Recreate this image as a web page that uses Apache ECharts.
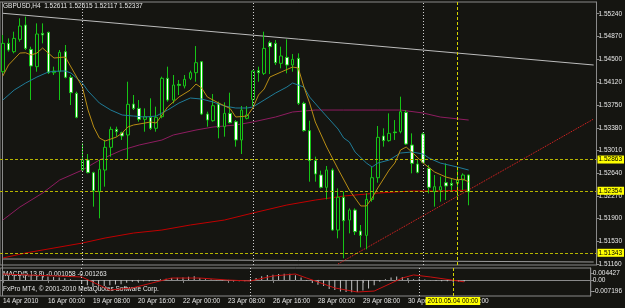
<!DOCTYPE html>
<html>
<head>
<meta charset="utf-8">
<script src="https://cdn.jsdelivr.net/npm/echarts@6/dist/echarts.min.js"></script>
<style>
html, body { margin: 0; padding: 0; background: #151511; }
#chart { width: 625px; height: 308px; }
</style>
</head>
<body>
<div id="chart"></div>
<script>
// GBPUSD H4, 14 Apr 16:00 .. 4 May 08:00 (83 bars) + empty shift area on the right
// candle = [open, close, low, high]
var candles = [
  [1.54295, 1.54757, 1.54268, 1.54893], [1.54757, 1.54648, 1.54621, 1.54838],
  [1.54621, 1.54838, 1.54594, 1.54947], [1.54822, 1.55040, 1.54784, 1.55165],
  [1.55056, 1.54675, 1.54648, 1.55192], [1.54659, 1.54388, 1.53833, 1.54703],
  [1.54377, 1.54909, 1.54295, 1.55083], [1.54920, 1.54893, 1.54757, 1.55083],
  [1.54936, 1.54279, 1.54257, 1.54947], [1.54279, 1.54306, 1.54241, 1.54377],
  [1.54295, 1.54610, 1.53833, 1.54648], [1.54621, 1.54203, 1.54187, 1.54730],
  [1.54203, 1.53953, 1.53752, 1.54241], [1.53942, 1.53551, 1.53535, 1.53969],
  [1.52692, 1.52856, 1.52665, 1.53127], [1.52856, 1.52649, 1.52638, 1.52953],
  [1.52649, 1.52355, 1.52095, 1.52665], [1.52339, 1.52703, 1.51905, 1.52856],
  [1.52692, 1.53062, 1.52421, 1.53182], [1.53062, 1.53355, 1.52910, 1.53399],
  [1.53355, 1.53317, 1.53236, 1.53399], [1.53301, 1.53247, 1.53182, 1.53317],
  [1.53263, 1.53763, 1.52856, 1.54132], [1.53768, 1.53697, 1.53670, 1.53915],
  [1.53697, 1.53518, 1.53480, 1.53833], [1.53518, 1.53562, 1.53317, 1.53697],
  [1.53551, 1.53372, 1.53344, 1.53861], [1.53372, 1.53551, 1.53317, 1.53725],
  [1.53562, 1.54187, 1.53535, 1.54214], [1.54187, 1.53833, 1.53806, 1.54377],
  [1.53833, 1.54078, 1.53779, 1.54241], [1.54089, 1.54072, 1.53915, 1.54159],
  [1.54062, 1.54170, 1.54023, 1.54241], [1.54187, 1.54279, 1.54159, 1.54312],
  [1.54279, 1.54442, 1.54132, 1.54713], [1.54458, 1.53605, 1.53589, 1.54469],
  [1.53605, 1.53507, 1.53399, 1.53643], [1.53496, 1.53741, 1.53480, 1.53931],
  [1.53768, 1.53388, 1.53209, 1.53806], [1.53399, 1.53616, 1.53236, 1.53795],
  [1.53616, 1.53464, 1.53453, 1.53953], [1.53480, 1.53182, 1.53073, 1.53507],
  [1.53182, 1.53670, 1.52953, 1.53736], [1.53535, 1.53589, 1.53518, 1.53736],
  [1.53844, 1.54306, 1.53736, 1.54322], [1.54312, 1.54279, 1.54132, 1.54377],
  [1.54268, 1.54675, 1.54241, 1.54947], [1.54768, 1.54703, 1.54257, 1.54800],
  [1.54757, 1.54442, 1.54404, 1.54811], [1.54431, 1.54551, 1.54350, 1.54703],
  [1.54529, 1.54404, 1.54268, 1.54822], [1.54404, 1.54496, 1.54295, 1.54583],
  [1.54513, 1.53779, 1.53752, 1.54594], [1.53779, 1.53334, 1.53317, 1.53806],
  [1.53334, 1.52845, 1.52502, 1.53496], [1.52845, 1.52627, 1.52502, 1.52910],
  [1.52611, 1.52410, 1.52393, 1.52682], [1.52410, 1.52692, 1.52214, 1.52758],
  [1.52692, 1.51714, 1.51703, 1.52720], [1.51714, 1.52247, 1.51579, 1.52393],
  [1.52247, 1.51866, 1.51253, 1.52339], [1.51877, 1.52040, 1.51660, 1.52067],
  [1.52040, 1.51687, 1.51633, 1.52067], [1.51698, 1.51627, 1.51432, 1.51796],
  [1.51627, 1.52214, 1.51399, 1.52312], [1.52214, 1.52567, 1.52176, 1.52747],
  [1.52567, 1.53225, 1.52486, 1.53410], [1.53247, 1.53171, 1.53073, 1.53372],
  [1.53171, 1.53290, 1.53154, 1.53616], [1.53312, 1.53301, 1.53182, 1.53507],
  [1.53317, 1.53643, 1.53290, 1.53888], [1.53632, 1.53116, 1.53100, 1.53670],
  [1.53100, 1.52801, 1.52638, 1.53290], [1.52790, 1.52654, 1.52638, 1.52856],
  [1.53279, 1.52817, 1.52801, 1.53301], [1.52720, 1.52410, 1.52312, 1.52774],
  [1.52339, 1.52421, 1.52095, 1.52611], [1.52366, 1.52421, 1.52176, 1.52584],
  [1.52486, 1.52432, 1.52203, 1.52801], [1.52475, 1.52443, 1.52355, 1.52556],
  [1.52475, 1.52530, 1.52258, 1.52692], [1.52530, 1.52611, 1.52366, 1.52638],
  [1.52611, 1.52337, 1.52117, 1.52615]
];

// moving averages read at [bar, price]
var maFast = [
  [0, 1.54225], [1, 1.54404], [3, 1.54599], [4, 1.54604], [5, 1.54567], [6, 1.54599],
  [7, 1.54681], [8, 1.54599], [9, 1.54518], [11, 1.54534], [12, 1.54371], [13, 1.54208],
  [14, 1.54045], [15, 1.53670], [16, 1.53393], [17, 1.53214], [18, 1.53165], [20, 1.53230],
  [21, 1.53295], [22, 1.53393], [23, 1.53426], [25, 1.53458], [26, 1.53475], [27, 1.53458],
  [28, 1.53589], [29, 1.53719], [31, 1.53882], [33, 1.53996], [34, 1.54094], [35, 1.54029],
  [36, 1.53882], [38, 1.53784], [40, 1.53695], [41, 1.53556], [43, 1.53572], [44, 1.53703],
  [45, 1.53915], [46, 1.54013], [47, 1.54208], [49, 1.54290], [51, 1.54371], [52, 1.54355],
  [53, 1.54045], [54, 1.53784], [55, 1.53475], [57, 1.53067], [59, 1.52709], [61, 1.52366],
  [63, 1.52106], [64, 1.52106], [65, 1.52236], [66, 1.52399], [68, 1.52692], [69, 1.52806],
  [70, 1.53018], [71, 1.53067], [72, 1.52986], [74, 1.52806], [76, 1.52660], [78, 1.52578],
  [80, 1.52529], [81, 1.52545], [82, 1.52497]
];
var maMid = [
  [0, 1.53833], [2, 1.53996], [4, 1.54110], [6, 1.54208], [8, 1.54290], [10, 1.54306],
  [11, 1.54306], [12, 1.54273], [14, 1.54110], [15, 1.53980], [17, 1.53784], [19, 1.53670],
  [21, 1.53589], [23, 1.53572], [25, 1.53556], [27, 1.53572], [29, 1.53670], [31, 1.53784],
  [33, 1.53866], [35, 1.53849], [37, 1.53801], [39, 1.53735], [41, 1.53703], [43, 1.53703],
  [44, 1.53719], [46, 1.53833], [48, 1.53947], [50, 1.54045], [51, 1.54110], [53, 1.54045],
  [54, 1.53882], [56, 1.53670], [59, 1.53361], [60, 1.53214], [61, 1.53149], [62, 1.52986],
  [64, 1.52806], [65, 1.52741], [66, 1.52806], [68, 1.52855], [70, 1.52969], [72, 1.52986],
  [74, 1.52953], [75, 1.52888], [77, 1.52806], [80, 1.52741], [82, 1.52692]
];
var maSlow = [
  [0, 1.51877], [3, 1.52089], [7, 1.52317], [10, 1.52529], [14, 1.52692], [17, 1.52855],
  [21, 1.53018], [24, 1.53100], [28, 1.53181], [30, 1.53263], [34, 1.53344], [37, 1.53393],
  [41, 1.53426], [44, 1.53475], [48, 1.53556], [51, 1.53638], [55, 1.53670], [60, 1.53670],
  [66, 1.53670], [70, 1.53670], [74, 1.53621], [77, 1.53556], [82, 1.53507]
];
var maLong = [
  [0, 1.51258], [4, 1.51340], [9, 1.51421], [14, 1.51502], [18, 1.51584], [23, 1.51665],
  [28, 1.51714], [33, 1.51796], [39, 1.51877], [44, 1.51991], [50, 1.52122], [55, 1.52203],
  [60, 1.52268], [66, 1.52317], [72, 1.52350], [77, 1.52350], [82, 1.52366]
];

// drawn trend lines [bar, price]
var trendTop = [[0, 1.55247], [104, 1.54404]];
var trendBottom = [[0, 1.51242], [104, 1.51193]];
var trendRise = [[59, 1.51160], [104, 1.53524]];

var levels = [1.52863, 1.52354, 1.51343];
var separators = ['14', '44', '74'];
var cursorBar = '80';

// MACD(5,13,8)
var macdHist = [
  0.0025, 0.0026, 0.0028, 0.0030, 0.0029, 0.0025, 0.0027, 0.0027, 0.0022, 0.0018,
  0.0015, 0.0010, 0.0004, -0.0004, -0.0025, -0.0035, -0.0045, -0.0045, -0.0040, -0.0035,
  -0.0030, -0.0028, -0.0018, -0.0012, -0.0010, -0.0008, -0.0008, -0.0006, 0.0005, 0.0008,
  0.0012, 0.0014, 0.0016, 0.0020, 0.0024, 0.0012, 0.0004, 0.0002, -0.0003, -0.0004,
  -0.0006, -0.0010, -0.0008, -0.0008, 0.0006, 0.0012, 0.0024, 0.0032, 0.0034, 0.0038,
  0.0040, 0.0040, 0.0030, 0.0015, -0.0005, -0.0020, -0.0032, -0.0040, -0.0058, -0.0065,
  -0.0075, -0.0078, -0.0080, -0.0078, -0.0068, -0.0055, -0.0035, -0.0012, 0.0005, 0.0015,
  0.0022, 0.0018, 0.0012, 0.0005, 0.0008, 0.0003, -0.0002, -0.0005, -0.0008, -0.0009,
  -0.0010, -0.0010, -0.00106
];
var macdSignal = [
  [0, 0.0038], [14, 0.0019], [19, -0.0065], [23, -0.0052], [30, 0.0012], [35, 0.0012],
  [40, -0.0001], [44, -0.0007], [48, 0.0025], [52, 0.0038], [54, 0.0012], [59, -0.0052],
  [63, -0.0078], [66, -0.0072], [71, 0.0012], [73, 0.0032], [76, 0.0019], [82, -0.00126]
];

var timeLabels = ['14 Apr 2010', '16 Apr 00:00', '19 Apr 08:00', '20 Apr 16:00', '22 Apr 00:00',
  '23 Apr 08:00', '26 Apr 16:00', '28 Apr 00:00', '29 Apr 08:00', '30 Apr 16:00', '4 May 00:00'];
var priceTicks = [1.5116, 1.5153, 1.5190, 1.5227, 1.5264, 1.5301, 1.5338, 1.5375, 1.5412, 1.5450, 1.5487, 1.5524];
var macdTicks = [0.004427, 0, -0.007196];

var slotCount = 105;
var slots = [];
for (var i = 0; i < slotCount; i++) slots.push(String(i));

var bg = '#151511';
var frame = '#8a8a8a';
var txt = '#e8e8e8';
var font = 'Liberation Sans';
var levelColor = '#b4b400';

function labelTick(index) {
  return index % 8 === 0 && index / 8 < timeLabels.length;
}

var sepLines = separators.map(function (s) {
  return { xAxis: s, lineStyle: { color: '#cfcfcf', type: [1, 2], width: 1 }, label: { show: false } };
});

var levelLines = levels.map(function (v) {
  return {
    yAxis: v, lineStyle: { color: levelColor, type: [3, 2], width: 1 },
    label: {
      show: true, position: 'end', distance: 1, formatter: v.toFixed(5), fontSize: 6.5, fontFamily: font,
      color: '#000', backgroundColor: '#ffff00', padding: [1, 2, 0, 1]
    }
  };
});

var chart = echarts.init(document.getElementById('chart'));
var option = {
  backgroundColor: bg,
  animation: false,
  textStyle: { fontFamily: font },
  grid: [
    { left: 0, right: 27, top: 2, height: 263, show: true, borderColor: frame, borderWidth: 1 },
    { left: 0, right: 27, top: 268, height: 28, show: true, borderColor: frame, borderWidth: 1 }
  ],
  xAxis: [
    { type: 'category', gridIndex: 0, data: slots, show: false },
    {
      type: 'category', gridIndex: 1, data: slots,
      axisLine: { show: true, lineStyle: { color: frame } },
      axisTick: { show: true, interval: labelTick, alignWithLabel: true, length: 3, lineStyle: { color: frame } },
      axisLabel: {
        interval: labelTick, align: 'left', margin: 2, fontSize: 6.5, color: txt, fontFamily: font,
        formatter: function (v, idx) { return timeLabels[idx / 8]; }
      }
    }
  ],
  yAxis: [
    {
      type: 'value', gridIndex: 0, position: 'right', min: 1.51144, max: 1.55431,
      splitLine: { show: false },
      axisLine: { show: true, lineStyle: { color: frame } },
      axisTick: { show: true, length: 3, customValues: priceTicks, lineStyle: { color: frame } },
      axisLabel: {
        customValues: priceTicks, margin: 2, fontSize: 6.5, color: txt, fontFamily: font,
        formatter: function (v) { return v.toFixed(5); }
      }
    },
    {
      type: 'value', gridIndex: 1, position: 'right', min: -0.01039, max: 0.00768,
      splitLine: { show: false },
      axisLine: { show: true, lineStyle: { color: frame } },
      axisTick: { show: true, length: 3, customValues: macdTicks, lineStyle: { color: frame } },
      axisLabel: {
        customValues: macdTicks, margin: 2, fontSize: 6.5, color: txt, fontFamily: font,
        formatter: function (v) { return v === 0 ? '0.00' : v.toFixed(6); }
      }
    }
  ],
  series: [
    {
      type: 'line', xAxisIndex: 0, yAxisIndex: 0, data: trendTop, symbol: 'none',
      lineStyle: { color: '#bcbcbc', width: 1 }, z: 1,
      markLine: {
        symbol: ['none', 'none'], silent: true, animation: false, precision: 5,
        data: levelLines.concat(sepLines).concat([
          { xAxis: cursorBar, lineStyle: { color: '#d4d400', type: [3, 2], width: 1 }, label: { show: false } }
        ])
      }
    },
    {
      type: 'line', xAxisIndex: 0, yAxisIndex: 0, data: trendBottom, symbol: 'none',
      lineStyle: { color: '#9c9c9c', width: 1 }, z: 1
    },
    {
      type: 'line', xAxisIndex: 0, yAxisIndex: 0, data: trendRise, symbol: 'none',
      lineStyle: { color: '#f02424', width: 1, type: [1, 1] }, z: 1
    },
    {
      type: 'line', xAxisIndex: 0, yAxisIndex: 0, data: maLong, symbol: 'none',
      lineStyle: { color: '#c00000', width: 1 }, z: 2
    },
    {
      type: 'line', xAxisIndex: 0, yAxisIndex: 0, data: maSlow, symbol: 'none',
      lineStyle: { color: '#8e1c60', width: 1 }, z: 2
    },
    {
      type: 'candlestick', xAxisIndex: 0, yAxisIndex: 0, data: candles, barWidth: 3, z: 3,
      itemStyle: { color: bg, color0: '#ffffff', borderColor: '#16c416', borderColor0: '#16c416', borderWidth: 1 }
    },
    {
      type: 'line', xAxisIndex: 0, yAxisIndex: 0, data: maMid, symbol: 'none',
      lineStyle: { color: '#1f7c98', width: 1 }, z: 4
    },
    {
      type: 'line', xAxisIndex: 0, yAxisIndex: 0, data: maFast, symbol: 'none',
      lineStyle: { color: '#b88d14', width: 1 }, z: 4
    },
    {
      type: 'bar', xAxisIndex: 1, yAxisIndex: 1, data: macdHist, barWidth: 1,
      itemStyle: { color: '#c4c4c4' },
      markLine: {
        symbol: ['none', 'none'], silent: true, animation: false,
        data: sepLines.concat([
          {
            xAxis: cursorBar, lineStyle: { color: '#d4d400', type: [3, 2], width: 1 },
            label: {
              show: true, position: 'start', distance: 1, formatter: '2010.05.04 00:00', fontSize: 6.5, fontFamily: font,
              color: '#000', backgroundColor: '#ffff00', padding: [1, 2, 0, 2]
            }
          }
        ])
      }
    },
    {
      type: 'line', xAxisIndex: 1, yAxisIndex: 1, data: macdSignal, symbol: 'none',
      lineStyle: { color: '#c81010', width: 1 }
    }
  ],
  graphic: [
    { type: 'line', shape: { x1: 2.5, y1: 2, x2: 2.5, y2: 296 }, style: { stroke: frame, lineWidth: 1 } },
    { type: 'text', left: 3, top: 3, style: { text: 'GBPUSD,H4  1.52611 1.52615 1.52117 1.52337', fill: txt, font: '6.5px ' + font } },
    { type: 'text', left: 3, top: 271, style: { text: 'MACD(5,13,8) -0.001058 -0.001263', fill: txt, font: '6.5px ' + font } },
    { type: 'text', left: 3, top: 286, style: { text: 'FxPro MT4, \u00a9 2001-2010 MetaQuotes Software Corp.', fill: txt, font: '6.5px ' + font } }
  ]
};
chart.setOption(option);
</script>
</body>
</html>
